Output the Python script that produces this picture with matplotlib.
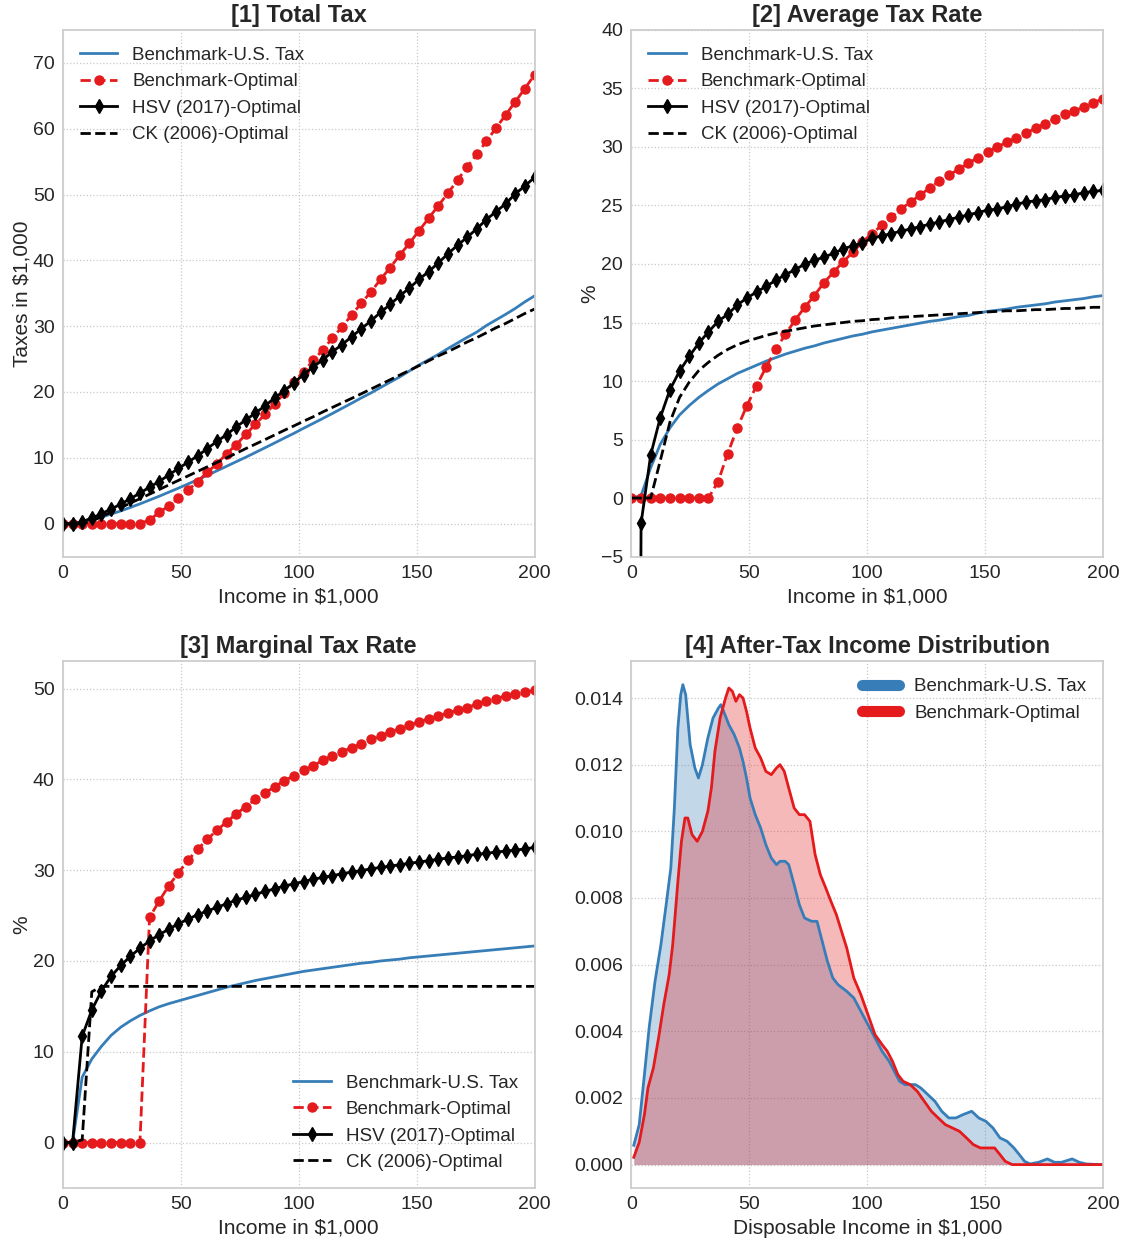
import matplotlib
matplotlib.use("Agg")
import matplotlib.pyplot as plt
from matplotlib.lines import Line2D
from matplotlib.ticker import FormatStrFormatter

# income grid (in $1,000) where the curves are evaluated
income = [0.0, 4.08, 8.16, 12.24, 16.33, 20.41, 24.49, 28.57, 32.65, 36.73,
          40.82, 44.90, 48.98, 53.06, 57.14, 61.22, 65.31, 69.39, 73.47, 77.55,
          81.63, 85.71, 89.80, 93.88, 97.96, 102.04, 106.12, 110.20, 114.29, 118.37,
          122.45, 126.53, 130.61, 134.69, 138.78, 142.86, 146.94, 151.02, 155.10, 159.18,
          163.27, 167.35, 171.43, 175.51, 179.59, 183.67, 187.76, 191.84, 195.92, 200.0]

# [1] total tax (in $1,000)
tax_us = [0.0, 0.01, 0.21, 0.56, 0.98, 1.45, 1.93, 2.46, 3.0, 3.58,
          4.16, 4.78, 5.39, 6.03, 6.68, 7.34, 8.03, 8.71, 9.41, 10.09,
          10.81, 11.53, 12.26, 13.0, 13.72, 14.49, 15.23, 15.98, 16.74, 17.52,
          18.3, 19.1, 19.85, 20.68, 21.5, 22.3, 23.2, 24.1, 24.9, 25.7,
          26.6, 27.45, 28.3, 29.1, 30.1, 30.95, 31.8, 32.7, 33.7, 34.6]
tax_opt = [0, 0, 0, 0, 0, 0, 0, 0, 0, 0.56,
           1.7, 2.7, 3.86, 5.1, 6.4, 7.8, 9.1, 10.6, 12.0, 13.55,
           15.1, 16.6, 18.2, 19.8, 21.5, 23.1, 24.8, 26.4, 28.2, 29.9,
           31.7, 33.5, 35.2, 37.1, 38.9, 40.8, 42.6, 44.5, 46.4, 48.3,
           50.2, 52.2, 54.2, 56.1, 58.1, 60.1, 62.1, 64.1, 66.1, 68.2]
tax_hsv = [0.0, -0.1, 0.3, 0.84, 1.51, 2.21, 2.96, 3.78, 4.64, 5.54,
           6.4, 7.4, 8.38, 9.35, 10.3, 11.4, 12.5, 13.5, 14.7, 15.75,
           16.8, 17.9, 19.1, 20.2, 21.4, 22.65, 23.8, 24.9, 26.1, 27.2,
           28.4, 29.6, 30.8, 32.1, 33.3, 34.6, 35.8, 37.1, 38.3, 39.6,
           41.0, 42.3, 43.5, 44.8, 46.2, 47.4, 48.6, 50.1, 51.3, 52.6]
tax_ck = [0, 0, 0, 0.39, 1.06, 1.75, 2.43, 3.12, 3.79, 4.48,
          5.18, 5.88, 6.57, 7.25, 7.94, 8.63, 9.3, 9.99, 10.69, 11.4,
          12.08, 12.77, 13.47, 14.18, 14.85, 15.56, 16.23, 16.97, 17.66, 18.35,
          19.03, 19.73, 20.44, 21.15, 21.86, 22.58, 23.28, 24.0, 24.74, 25.47,
          26.13, 26.85, 27.6, 28.26, 29.0, 29.76, 30.42, 31.17, 31.93, 32.6]

# [2] average tax rate (%)
avg_us = [0.0, 0.2, 2.6, 4.6, 6.0, 7.1, 7.9, 8.6, 9.2, 9.75,
          10.2, 10.65, 11.0, 11.35, 11.7, 12.0, 12.3, 12.55, 12.8, 13.0,
          13.25, 13.45, 13.65, 13.85, 14.0, 14.2, 14.35, 14.5, 14.65, 14.8,
          14.95, 15.1, 15.2, 15.35, 15.5, 15.6, 15.8, 15.95, 16.05, 16.15,
          16.3, 16.4, 16.5, 16.6, 16.75, 16.85, 16.95, 17.05, 17.2, 17.3]
avg_opt = [0, 0, 0, 0, 0, 0, 0, 0, 0, 1.4,
           3.8, 6.0, 7.9, 9.6, 11.2, 12.7, 14.0, 15.2, 16.3, 17.3,
           18.4, 19.3, 20.2, 21.0, 21.9, 22.6, 23.3, 24.0, 24.7, 25.3,
           25.9, 26.5, 27.1, 27.6, 28.1, 28.6, 29.1, 29.6, 30.0, 30.4,
           30.8, 31.2, 31.6, 32.0, 32.4, 32.8, 33.1, 33.4, 33.8, 34.1]
avg_hsv = [-200.0, -2.16, 3.69, 6.88, 9.26, 10.85, 12.1, 13.24, 14.2, 15.1,
           15.7, 16.5, 17.1, 17.6, 18.1, 18.6, 19.1, 19.5, 20.0, 20.3,
           20.6, 20.9, 21.3, 21.55, 21.8, 22.2, 22.4, 22.6, 22.8, 23.0,
           23.2, 23.4, 23.6, 23.8, 24.0, 24.2, 24.4, 24.6, 24.7, 24.9,
           25.1, 25.3, 25.4, 25.5, 25.7, 25.8, 25.9, 26.1, 26.2, 26.3]
avg_ck = [0, 0, 0, 3.2, 6.5, 8.6, 9.9, 10.9, 11.6, 12.2,
          12.7, 13.1, 13.4, 13.65, 13.9, 14.1, 14.25, 14.4, 14.55, 14.7,
          14.8, 14.9, 15.0, 15.1, 15.15, 15.25, 15.3, 15.4, 15.45, 15.5,
          15.55, 15.6, 15.65, 15.7, 15.75, 15.8, 15.85, 15.9, 15.95, 16.0,
          16.0, 16.05, 16.1, 16.1, 16.15, 16.2, 16.2, 16.25, 16.3, 16.3]

# [3] marginal tax rate (%)
mtr_us = [0.0, 0.0, 7.2, 9.2, 10.6, 11.8, 12.7, 13.4, 14.0, 14.5,
          14.95, 15.3, 15.6, 15.9, 16.2, 16.5, 16.8, 17.1, 17.35, 17.6,
          17.85, 18.05, 18.25, 18.45, 18.65, 18.85, 19.0, 19.15, 19.3, 19.45,
          19.6, 19.75, 19.85, 20.0, 20.1, 20.2, 20.35, 20.45, 20.55, 20.65,
          20.75, 20.85, 20.95, 21.05, 21.15, 21.25, 21.35, 21.45, 21.55, 21.65]
mtr_opt = [0, 0, 0, 0, 0, 0, 0, 0, 0, 24.8,
           26.6, 28.3, 29.7, 31.1, 32.3, 33.4, 34.4, 35.3, 36.2, 37.0,
           37.8, 38.5, 39.2, 39.85, 40.4, 41.0, 41.5, 42.1, 42.6, 43.05,
           43.5, 43.9, 44.4, 44.8, 45.2, 45.6, 46.0, 46.3, 46.7, 47.0,
           47.3, 47.65, 47.9, 48.3, 48.6, 48.9, 49.2, 49.4, 49.6, 49.8]
mtr_hsv = [0.0, 0.0, 11.7, 14.6, 16.7, 18.3, 19.5, 20.5, 21.4, 22.2,
           22.9, 23.5, 24.1, 24.6, 25.1, 25.5, 25.9, 26.3, 26.7, 27.0,
           27.35, 27.65, 27.95, 28.25, 28.5, 28.75, 29.0, 29.2, 29.4, 29.6,
           29.8, 29.95, 30.15, 30.3, 30.45, 30.6, 30.75, 30.9, 31.05, 31.2,
           31.35, 31.45, 31.6, 31.75, 31.85, 32.0, 32.1, 32.2, 32.35, 32.5]
mtr_ck = [0, 0, 0.3, 16.6, 17.2, 17.2, 17.2, 17.2, 17.2, 17.2,
          17.2, 17.2, 17.2, 17.2, 17.2, 17.2, 17.2, 17.2, 17.2, 17.2,
          17.2, 17.2, 17.2, 17.2, 17.2, 17.2, 17.2, 17.2, 17.2, 17.2,
          17.2, 17.2, 17.2, 17.2, 17.2, 17.2, 17.2, 17.2, 17.2, 17.2,
          17.2, 17.2, 17.2, 17.2, 17.2, 17.2, 17.2, 17.2, 17.2, 17.2]

# [4] after-tax income density
kde_us_x = [1.0, 3.3, 5.5, 7.5, 10.0, 12.5, 14.9, 16.7, 18.2, 19.7, 20.9, 21.8, 23.0, 24.9,
            26.9, 28.4, 30.1, 32.4, 34.6, 36.9, 37.9, 39.1, 41.3, 43.6, 45.8, 47.3, 48.8,
            50.3, 52.5, 54.8, 57.0, 59.3, 61.5, 63.0, 65.2, 66.7, 69.0, 71.2, 73.4, 76.4,
            78.7, 80.9, 83.1, 85.4, 87.6, 91.3, 94.3, 97.3, 100.3, 103.3, 106.3, 109.3,
            111.5, 113.7, 116.0, 118.2, 120.4, 122.7, 125.7, 128.7, 131.6, 134.6, 137.6,
            140.6, 144.3, 147.3, 150.3, 153.3, 156.3, 159.3, 162.2, 164.5, 166.7, 169.0,
            172.7, 176.4, 179.4, 182.4, 186.9, 189.9, 192.8, 198.8, 200.0]
kde_us_y = [0.00058, 0.0012, 0.0027, 0.0041, 0.0055, 0.0066, 0.0079, 0.0089, 0.0107, 0.0131,
            0.0141, 0.0144, 0.0141, 0.0126, 0.0119, 0.0116, 0.0120, 0.0128, 0.0134, 0.0137,
            0.0138, 0.0136, 0.0132, 0.0129, 0.0125, 0.0121, 0.0116, 0.0110, 0.0105, 0.0101,
            0.0096, 0.0092, 0.0090, 0.0091, 0.0091, 0.0090, 0.0084, 0.0078, 0.0074, 0.0073,
            0.0073, 0.0067, 0.0061, 0.0056, 0.0054, 0.0052, 0.0050, 0.0046, 0.0042, 0.0038,
            0.0034, 0.0031, 0.0028, 0.0025, 0.0024, 0.0024, 0.0024, 0.0023, 0.0021, 0.0019,
            0.0016, 0.0014, 0.0014, 0.0015, 0.0016, 0.0014, 0.0013, 0.0011, 0.0008, 0.0007,
            0.0005, 0.0003, 0.0001, 0.00002, 0.00007, 0.00017, 0.00007, 0.00007, 0.00017,
            0.00007, 0.00002, 0.0, 0.0]
kde_opt_x = [1.0, 3.3, 5.5, 7.0, 9.3, 11.5, 13.7, 16.0, 17.5, 18.2, 19.7, 21.2, 22.7, 23.9,
             25.7, 27.9, 30.1, 32.4, 33.9, 35.4, 37.6, 39.9, 41.3, 42.8, 44.3, 45.8, 47.3,
             48.8, 50.3, 52.5, 54.8, 57.0, 59.3, 61.5, 63.0, 64.8, 66.7, 69.0, 71.2, 73.4,
             75.7, 77.9, 80.1, 82.4, 84.6, 86.9, 89.1, 91.3, 94.3, 97.3, 100.3, 103.3, 106.3,
             108.5, 110.7, 113.0, 115.2, 118.2, 121.2, 124.2, 127.2, 130.1, 133.1, 136.1,
             139.1, 142.1, 145.0, 148.0, 151.0, 154.0, 156.3, 158.5, 161.5, 200.0]
kde_opt_y = [0.00022, 0.00067, 0.0015, 0.0023, 0.0029, 0.0038, 0.0048, 0.0057, 0.0066, 0.0072,
             0.0085, 0.0097, 0.0104, 0.0104, 0.0099, 0.0097, 0.0100, 0.0106, 0.0113, 0.0124,
             0.0134, 0.0140, 0.0143, 0.0142, 0.0139, 0.0141, 0.0140, 0.0136, 0.0131, 0.0125,
             0.0122, 0.0118, 0.0117, 0.0119, 0.0120, 0.0118, 0.0113, 0.0107, 0.0105, 0.0105,
             0.0103, 0.0093, 0.0087, 0.0083, 0.0079, 0.0075, 0.0070, 0.0065, 0.0056, 0.0051,
             0.0045, 0.0039, 0.0036, 0.0034, 0.0031, 0.0027, 0.0025, 0.0024, 0.0022, 0.0019,
             0.0016, 0.0014, 0.0012, 0.0011, 0.0010, 0.0008, 0.0006, 0.0005, 0.0005, 0.0005,
             0.0003, 0.0001, 0.0, 0.0]

labels = ["Benchmark-U.S. Tax", "Benchmark-Optimal", "HSV (2017)-Optimal", "CK (2006)-Optimal"]
c_blue = "#377eb8"
c_red = "#e41a1c"
txt = "#262626"

plt.rcParams['font.family'] = ['Liberation Sans', 'DejaVu Sans']
plt.rcParams['text.color'] = txt
plt.rcParams['axes.labelcolor'] = txt
plt.rcParams['xtick.color'] = txt
plt.rcParams['ytick.color'] = txt

fig, axes = plt.subplots(2, 2, figsize=(11.22, 12.43), dpi=100)
fig.subplots_adjust(left=0.0561, right=0.9831, bottom=0.0443, top=0.9759,
                    wspace=0.2055, hspace=0.199)


def style(ax):
    ax.set_facecolor("white")
    ax.grid(True, linestyle=":", color="#c8c8c8", linewidth=0.9)
    ax.set_axisbelow(True)
    for s in ax.spines.values():
        s.set_color("#cccccc")
        s.set_linewidth(1.25)
    ax.tick_params(length=0, labelsize=14, pad=6)


def four_lines(ax, us, opt, hsv, ck):
    ax.plot(income, us, color=c_blue, lw=2, label=labels[0])
    ax.plot(income, opt, color=c_red, lw=2, ls="--", marker="o", ms=6.5, label=labels[1])
    ax.plot(income, hsv, color="k", lw=2, marker="d", ms=7.5, label=labels[2])
    ax.plot(income, ck, color="k", lw=2, ls="--", label=labels[3])


# [1]
ax = axes[0, 0]
style(ax)
four_lines(ax, tax_us, tax_opt, tax_hsv, tax_ck)
ax.set_xlim(0, 200)
ax.set_ylim(-5, 75)
ax.set_yticks([0, 10, 20, 30, 40, 50, 60, 70])
ax.set_title("[1] Total Tax", fontsize=17, fontweight="bold", pad=6)
ax.set_xlabel("Income in $1,000", fontsize=15)
ax.set_ylabel("Taxes in $1,000", fontsize=15, labelpad=1)
ax.legend(loc="upper left", frameon=False, fontsize=13.5, labelspacing=0.5)

# [2]
ax = axes[0, 1]
style(ax)
four_lines(ax, avg_us, avg_opt, avg_hsv, avg_ck)
ax.set_xlim(0, 200)
ax.set_ylim(-5, 40)
ax.set_yticks(range(-5, 41, 5))
ax.set_title("[2] Average Tax Rate", fontsize=17, fontweight="bold", pad=6)
ax.set_xlabel("Income in $1,000", fontsize=15)
ax.set_ylabel("%", fontsize=15, labelpad=1)
ax.legend(loc="upper left", frameon=False, fontsize=13.5, labelspacing=0.5)

# [3]
ax = axes[1, 0]
style(ax)
four_lines(ax, mtr_us, mtr_opt, mtr_hsv, mtr_ck)
ax.set_xlim(0, 200)
ax.set_ylim(-5, 53)
ax.set_yticks([0, 10, 20, 30, 40, 50])
ax.set_title("[3] Marginal Tax Rate", fontsize=17, fontweight="bold", pad=6)
ax.set_xlabel("Income in $1,000", fontsize=15)
ax.set_ylabel("%", fontsize=15, labelpad=1)
ax.legend(loc="lower right", frameon=False, fontsize=13.5, labelspacing=0.5)

# [4]
ax = axes[1, 1]
style(ax)
ax.plot(kde_us_x, kde_us_y, color=c_blue, lw=2)
ax.fill_between(kde_us_x, kde_us_y, color=c_blue, alpha=0.3, lw=0)
ax.plot(kde_opt_x, kde_opt_y, color=c_red, lw=2)
ax.fill_between(kde_opt_x, kde_opt_y, color=c_red, alpha=0.3, lw=0)
ax.set_xlim(0, 200)
ax.set_ylim(-0.0007, 0.0151)
ax.set_yticks([0, 0.002, 0.004, 0.006, 0.008, 0.010, 0.012, 0.014])
ax.yaxis.set_major_formatter(FormatStrFormatter("%.3f"))
ax.set_title("[4] After-Tax Income Distribution", fontsize=17, fontweight="bold", pad=6)
ax.set_xlabel("Disposable Income in $1,000", fontsize=15)
handles = [Line2D([0], [0], color=c_blue, lw=8, solid_capstyle="round"),
           Line2D([0], [0], color=c_red, lw=8, solid_capstyle="round")]
ax.legend(handles, labels[:2], loc="upper right", frameon=False, fontsize=13.5,
          labelspacing=0.5)

for ax in axes.flat:
    ax.set_xticks([0, 50, 100, 150, 200])

fig.savefig("out.png", dpi=100, facecolor="white")
